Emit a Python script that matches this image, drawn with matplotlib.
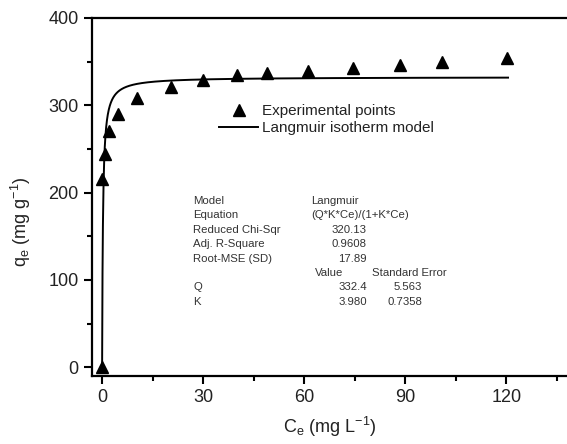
import matplotlib
matplotlib.use("Agg")
import matplotlib.pyplot as plt
import numpy as np
from matplotlib.ticker import MultipleLocator

plt.rcParams['font.family'] = ['Liberation Sans', 'DejaVu Sans']
plt.rcParams['mathtext.fontset'] = 'custom'
plt.rcParams['mathtext.rm'] = 'Liberation Sans'
plt.rcParams['mathtext.it'] = 'Liberation Sans'

# experimental points
ce = [0.0, 0.1, 0.9, 2.0, 4.8, 10.4, 20.5, 30.0, 40.0, 49.0, 61.0, 74.5, 88.5, 101.0, 120.3]
qe = [0, 216, 244, 271, 290, 308, 321, 329, 335, 337, 339, 343, 346, 350, 354]

# fitted Langmuir parameters
Q = 332.4
K = 3.980

table_rows = [
    ("Model", "Langmuir", ""),
    ("Equation", "(Q*K*Ce)/(1+K*Ce)", ""),
    ("Reduced Chi-Sqr", "320.13", ""),
    ("Adj. R-Square", "0.9608", ""),
    ("Root-MSE (SD)", "17.89", ""),
    ("", "Value", "Standard Error"),
    ("Q", "332.4", "5.563"),
    ("K", "3.980", "0.7358"),
]

W, H = 567, 444
fig = plt.figure(figsize=(W / 100, H / 100), dpi=100)
ax = fig.add_axes([92 / W, 68 / H, 1 - 92 / W, (376 - 18) / H])

c_fit = np.linspace(0, 120.5, 2000)
q_fit = Q * K * c_fit / (1 + K * c_fit)

ax.plot(ce, qe, linestyle='none', marker='^', color='black', markersize=9,
        label='Experimental points')
ax.plot(c_fit, q_fit, color='black', linewidth=1.4, label='Langmuir isotherm model')

ax.set_xlim(-3, 138)
ax.set_ylim(-10, 400)
ax.xaxis.set_major_locator(MultipleLocator(30))
ax.xaxis.set_minor_locator(MultipleLocator(15))
ax.yaxis.set_major_locator(MultipleLocator(100))
ax.yaxis.set_minor_locator(MultipleLocator(50))
ax.tick_params(which='both', direction='out', width=1.5, labelsize=13, colors='black',
               labelcolor='#222222')
ax.tick_params(which='major', length=6)
ax.tick_params(which='minor', length=3.5)
for s in ['left', 'bottom', 'top']:
    ax.spines[s].set_linewidth(1.6)
ax.spines['right'].set_visible(False)

ax.set_xlabel(r'C$_\mathregular{e}$ (mg L$^\mathregular{-1}$)', fontsize=13, color='#222222')
ax.set_ylabel(r'q$_\mathregular{e}$ (mg g$^\mathregular{-1}$)', fontsize=13, color='#222222')
ax.yaxis.set_label_coords(-0.125, 0.43)
ax.xaxis.set_label_coords(0.5, -0.11)

leg = ax.legend(loc='upper left', bbox_to_anchor=(0.2555, 0.776), frameon=False,
                fontsize=11, handlelength=2.5, handletextpad=0.3, labelspacing=0.2,
                borderaxespad=0)
for t in leg.get_texts():
    t.set_color('#222222')

# fit report table
y0 = 201
for i, (a, b, c) in enumerate(table_rows):
    y = 1 - (y0 + i * 14.4) / H
    kw = dict(fontsize=8.2, color='#333333', va='center')
    fig.text(193 / W, y, a, ha='left', **kw)
    if i < 2:
        fig.text(311 / W, y, b, ha='left', **kw)
    elif b == "Value":
        fig.text(315 / W, y, b, ha='left', **kw)
        fig.text(372 / W, y, c, ha='left', **kw)
    else:
        fig.text(367 / W, y, b, ha='right', **kw)
        if c:
            fig.text(422 / W, y, c, ha='right', **kw)

fig.savefig('out.png', dpi=100)
